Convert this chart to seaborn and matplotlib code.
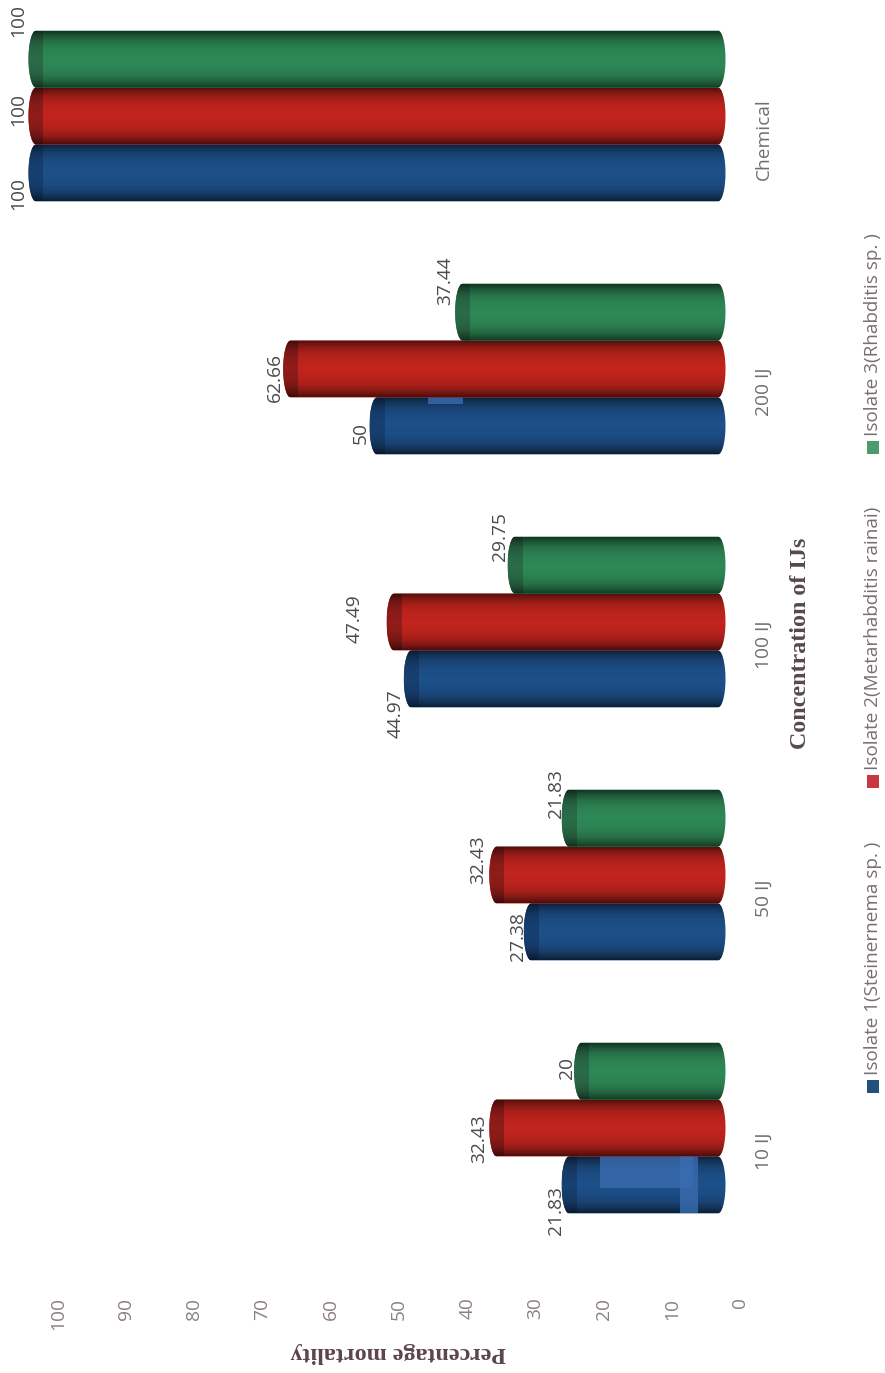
import numpy as np
import pandas as pd
import matplotlib
matplotlib.use("Agg")
import matplotlib.pyplot as plt
from matplotlib.patches import Ellipse, PathPatch, Rectangle
from matplotlib.path import Path
from matplotlib.transforms import Affine2D
import seaborn as sns

# Mortality of the test insect per nematode dose
concentrations = ["10 IJ", "50 IJ", "100 IJ", "200 IJ", "Chemical"]
isolates = ["Isolate 1(Steinernema sp. )", "Isolate 2(Metarhabditis rainai)", "Isolate 3(Rhabditis sp. )"]
isolate_1 = [21.83, 27.38, 44.97, 50, 100]
isolate_2 = [32.43, 32.43, 47.49, 62.66, 100]
isolate_3 = [20, 21.83, 29.75, 37.44, 100]
value_ticks = list(range(0, 101, 10))

# Pixel nudges of the value labels from the end of each cylinder
label_dx = [[3, 3, 1, 0, -1], [-1, -2, -23, 1, -1], [2, 3, 1, -1, -1]]
label_dy = [[-26, -5, -35, -7, -21], [-11, 15, 3, -9, 7], [3, 25, 29, 31, 39]]

# Lighter worn spots on two blue bars: category, value from, value to, share of the width from the upper rim
worn_spots = [(0, 3.7, 17.3, 0.55), (0, 3.0, 5.5, 1.0), (3, 37.4, 42.5, 0.12)]

bar_colors = ["#1d4f88", "#c0241d", "#2e8756"]
cap_colors = ["#173f70", "#8e1c19", "#2a6a47"]
legend_colors = ["#24507e", "#c8383f", "#4d9a6e"]
worn_color = "#3a6cb0"

W, H = 885, 1373
PX_PER_UNIT = 6.82
AXIS_RIGHT_PX, AXIS_BOTTOM_PX = 740, 1285
DEPTH_X, DEPTH_Y = -22, 23      # the cylinders stand behind the axis plane
CAP_UNITS = 7.5 / PX_PER_UNIT

sns.set_theme(style="white")
plt.rcParams["font.family"] = ["Open Sans", "DejaVu Sans"]

rows = []
for name, values in zip(isolates, [isolate_1, isolate_2, isolate_3]):
    for conc, val in zip(concentrations, values):
        rows.append({"Concentration": conc, "Isolate": name, "Mortality": val})
df = pd.DataFrame(rows)

fig = plt.figure(figsize=(W / 100, H / 100), dpi=100, facecolor="white")
ax = fig.add_axes([0, 1 - AXIS_BOTTOM_PX / H, AXIS_RIGHT_PX / W, AXIS_BOTTOM_PX / H])

sns.barplot(data=df, y="Concentration", x="Mortality", hue="Isolate",
            order=concentrations, hue_order=isolates, palette=bar_colors,
            width=0.675, gap=0, saturation=1, orient="h", errorbar=None,
            legend=False, ax=ax)

depth = ax.transData + Affine2D().translate(DEPTH_X, DEPTH_Y)

# Dark rims and a soft centre give each bar its round look
ramp = np.linspace(-1, 1, 64)
shade = np.zeros((64, 2, 4))
shade[..., 3] = (0.55 * np.abs(ramp) ** 3 + 0.05 * np.abs(ramp))[:, None]


def cylinder_outline(val, y0, hgt):
    t = np.linspace(-np.pi / 2, np.pi / 2, 40)
    yc, ry = y0 + hgt / 2, hgt / 2
    base = np.column_stack([-CAP_UNITS * np.cos(t), yc + ry * np.sin(t)])
    top = np.column_stack([val + CAP_UNITS * np.cos(t[::-1]), yc + ry * np.sin(t[::-1])])
    return Path(np.vstack([base, top, base[:1]]), closed=True)


for s, container in enumerate(ax.containers):
    for c, bar in enumerate(container):
        val, y0, hgt = bar.get_width(), bar.get_y(), bar.get_height()
        yc = y0 + hgt / 2
        bar.set_transform(depth)
        bar.set_clip_on(False)
        bar.set_linewidth(0)
        bar.set_zorder(2 + s * 0.1)

        outline = PathPatch(cylinder_outline(val, y0, hgt), transform=depth,
                            fc=bar_colors[s], ec="none", clip_on=False, zorder=2 + s * 0.1)
        ax.add_patch(outline)

        # End face: a dark band with a straight inner edge
        cap = Rectangle((val - CAP_UNITS, y0), 2 * CAP_UNITS, hgt, transform=depth,
                        fc=cap_colors[s], ec="none", zorder=2.01 + s * 0.1)
        ax.add_patch(cap)
        cap.set_clip_path(outline)

        glow = ax.imshow(shade, extent=(val + CAP_UNITS, -CAP_UNITS, y0, y0 + hgt),
                         aspect="auto", interpolation="bilinear",
                         transform=depth, zorder=2.04 + s * 0.1)
        glow.set_clip_path(outline)

        if s == 0:
            for cat, v0, v1, share in worn_spots:
                if cat == c:
                    spot = Rectangle((v0, y0 + hgt * (1 - share)), v1 - v0, hgt * share,
                                     transform=depth, fc=worn_color, ec="none",
                                     alpha=0.8, zorder=2.05)
                    ax.add_patch(spot)
                    spot.set_clip_path(outline)

        ax.annotate(f"{val:g}", xy=(val + CAP_UNITS, yc), xycoords=depth,
                    xytext=(label_dx[s][c], label_dy[s][c]), textcoords="offset pixels",
                    rotation=90, ha="right", va="center", fontsize=13.8,
                    color="#4a4a4a", annotation_clip=False, zorder=5)

ax.set_xlim(AXIS_RIGHT_PX / PX_PER_UNIT, 0)
ax.set_ylim(-(AXIS_BOTTOM_PX - 1151) / 253, 4 + (1151 - 4 * 253) / 253)
ax.set_aspect("auto")

ax.set_xticks(value_ticks)
ax.set_xticklabels([str(v) for v in value_ticks])
ax.yaxis.tick_right()
ax.tick_params(axis="x", length=0, labelrotation=90, pad=9, labelsize=13.8, labelcolor="#8d7f82")
ax.tick_params(axis="y", length=0, labelrotation=90, pad=11, labelsize=13.8, labelcolor="#6f6f6f")
for lab in ax.get_yticklabels():
    lab.set_va("center")
sns.despine(ax=ax, left=True, bottom=True, right=True, top=True)

ax.set_xlabel("Percentage mortality", rotation=180, fontsize=17.3, fontweight="bold",
              family="Liberation Serif", color="#5c444c")
ax.xaxis.set_label_coords(398 / AXIS_RIGHT_PX, -(1352 - AXIS_BOTTOM_PX) / AXIS_BOTTOM_PX)
ax.xaxis.label.set_va("center")
ax.yaxis.set_label_position("right")
ax.set_ylabel("Concentration of IJs", rotation=90, fontsize=17.3, fontweight="bold",
              family="Liberation Serif", color="#55494d")
ax.yaxis.set_label_coords(801 / AXIS_RIGHT_PX, 1 - 643 / AXIS_BOTTOM_PX)
ax.yaxis.label.set_va("center")
ax.yaxis.label.set_ha("center")

# Legend along the right edge, turned with the rest of the page
legend_y = [1087, 782, 448]
for name, col, ypx in zip(isolates, legend_colors, legend_y):
    fig.add_artist(Rectangle((867 / W, 1 - (ypx + 6) / H), 12 / W, 13 / H,
                             transform=fig.transFigure, fc=col, ec="none"))
    fig.text(873 / W, 1 - (ypx - 12) / H, name, rotation=90, ha="center", va="bottom",
             fontsize=13.6, color="#7a6d72")

fig.savefig("out.png", dpi=100, facecolor="white")
